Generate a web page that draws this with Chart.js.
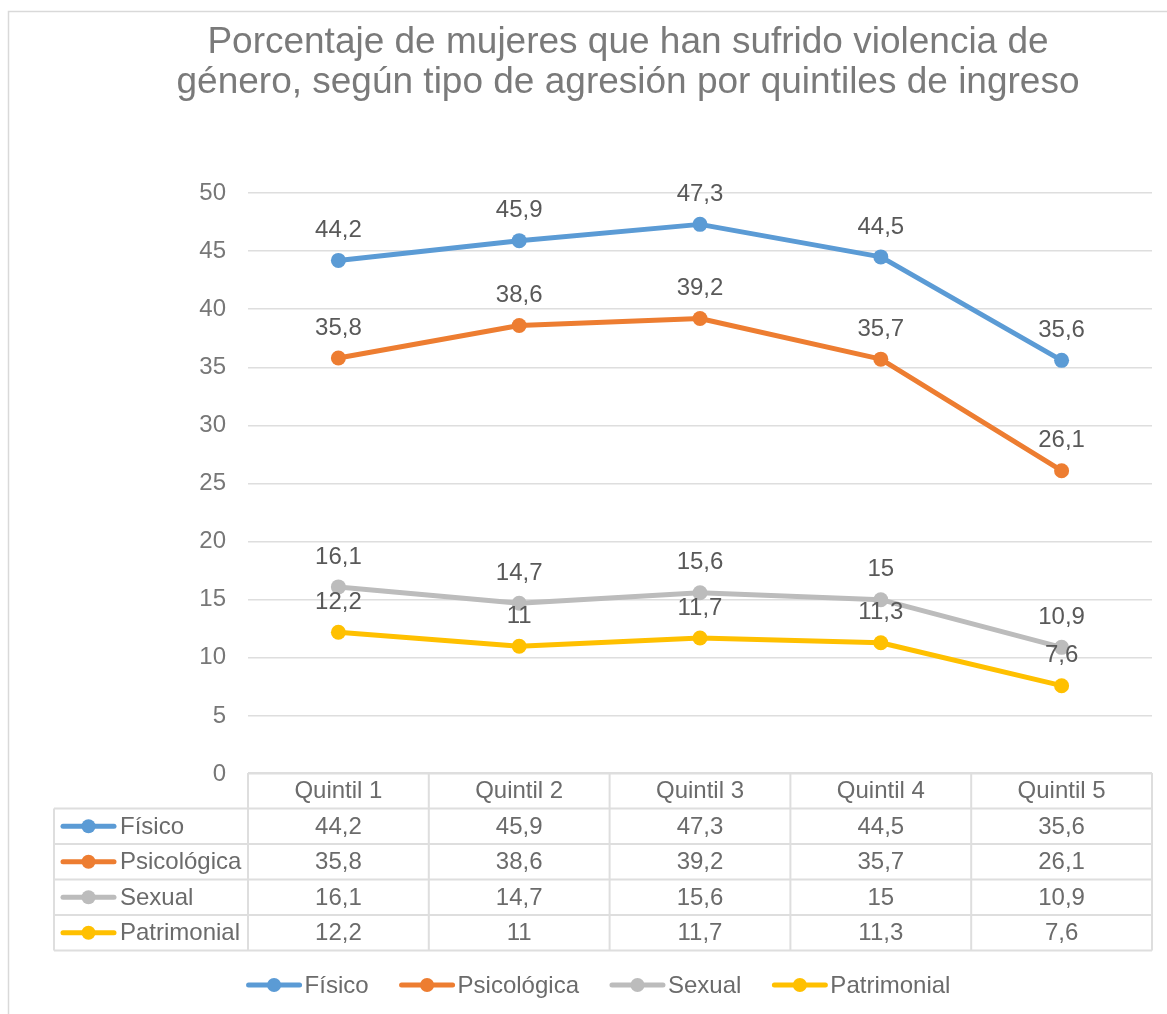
<!DOCTYPE html>
<html>
<head>
<meta charset="utf-8">
<script src="https://cdn.jsdelivr.net/npm/chart.js@4.4.1/dist/chart.umd.min.js"></script>
<style>
  html, body { margin: 0; padding: 0; background: #fff; }
  #wrap { width: 1167px; height: 1014px; }
</style>
</head>
<body>
<div id="wrap"><canvas id="chart" width="1167" height="1014"></canvas></div>
<script>
// Data
const titleLines = ['Porcentaje de mujeres que han sufrido violencia de', 'género, según tipo de agresión por quintiles de ingreso'];
const categories = ['Quintil 1', 'Quintil 2', 'Quintil 3', 'Quintil 4', 'Quintil 5'];
const seriesNames = ['Físico', 'Psicológica', 'Sexual', 'Patrimonial'];
const fisico = [44.2, 45.9, 47.3, 44.5, 35.6];
const psicologica = [35.8, 38.6, 39.2, 35.7, 26.1];
const sexual = [16.1, 14.7, 15.6, 15, 10.9];
const patrimonial = [12.2, 11, 11.7, 11.3, 7.6];
const yMin = 0;
const yMax = 50;
const yStep = 5;

const seriesColors = ['#5b9bd5', '#ed7d31', '#bcbcbc', '#ffc000'];
const FONT = "'Liberation Sans', Arial, sans-serif";
const GRID = '#dedede';

// numbers shown with decimal comma
function fmt(v) {
    return String(v).replace('.', ',');
}

// small line-with-dot key, like the Excel legend
function drawKey(ctx, x, y, w, color) {
    ctx.save();
    ctx.strokeStyle = color;
    ctx.fillStyle = color;
    ctx.lineWidth = 5;
    ctx.lineCap = 'round';
    ctx.beginPath();
    ctx.moveTo(x + 3, y);
    ctx.lineTo(x + w - 3, y);
    ctx.stroke();
    ctx.beginPath();
    ctx.arc(x + w / 2, y, 7, 0, Math.PI * 2);
    ctx.fill();
    ctx.restore();
}

// Outer frame + title
const framePlugin = {
    id: 'frame',
    beforeDraw(chart) {
        const ctx = chart.ctx;
        ctx.save();
        ctx.fillStyle = '#fff';
        ctx.fillRect(0, 0, chart.width, chart.height);
        ctx.strokeStyle = '#d9d9d9';
        ctx.lineWidth = 1.5;
        ctx.strokeRect(8.5, 11.5, chart.width + 20, chart.height + 20);
        ctx.fillStyle = '#7a7a7a';
        ctx.font = '37px ' + FONT;
        ctx.textAlign = 'center';
        ctx.textBaseline = 'alphabetic';
        titleLines.forEach((line, i) => {
            ctx.fillText(line, 628, 53 + i * 40);
        });
        ctx.restore();
    }
};

// Value labels above every point
const labelPlugin = {
    id: 'valueLabels',
    afterDatasetsDraw(chart) {
        const ctx = chart.ctx;
        ctx.save();
        ctx.font = '24px ' + FONT;
        ctx.fillStyle = '#595959';
        ctx.textAlign = 'center';
        ctx.textBaseline = 'middle';
        chart.data.datasets.forEach((ds, di) => {
            const meta = chart.getDatasetMeta(di);
            meta.data.forEach((pt, i) => {
                ctx.fillText(fmt(ds.data[i]), pt.x, pt.y - 30);
            });
        });
        ctx.restore();
    }
};

// Data table under the plot and legend at the bottom
const tablePlugin = {
    id: 'dataTable',
    afterDraw(chart) {
        const ctx = chart.ctx;
        const xs = chart.scales.x;
        const area = chart.chartArea;
        const colW = xs.getPixelForValue(1) - xs.getPixelForValue(0);
        const top = area.bottom - 1;
        const rowH = 35.5;
        const left = 54;
        const nRows = chart.data.datasets.length;
        const bottom = top + rowH * (nRows + 1);

        ctx.save();
        ctx.strokeStyle = GRID;
        ctx.lineWidth = 2;
        ctx.beginPath();
        // header row top
        ctx.moveTo(area.left, top);
        ctx.lineTo(area.right, top);
        for (let r = 1; r <= nRows + 1; r++) {
            ctx.moveTo(left, top + rowH * r);
            ctx.lineTo(area.right, top + rowH * r);
        }
        ctx.moveTo(left, top + rowH);
        ctx.lineTo(left, bottom);
        for (let c = 0; c <= categories.length; c++) {
            const x = area.left + c * colW;
            ctx.moveTo(x, top);
            ctx.lineTo(x, bottom);
        }
        ctx.stroke();

        ctx.font = '24px ' + FONT;
        ctx.fillStyle = '#6b6b6b';
        ctx.textBaseline = 'middle';
        ctx.textAlign = 'center';
        categories.forEach((cat, i) => {
            ctx.fillText(cat, xs.getPixelForValue(i), top + rowH / 2 + 1);
        });
        chart.data.datasets.forEach((ds, r) => {
            const cy = top + rowH * (r + 1.5) + 1;
            ds.data.forEach((v, i) => {
                ctx.textAlign = 'center';
                ctx.fillText(fmt(v), xs.getPixelForValue(i), cy);
            });
            drawKey(ctx, 60, cy - 1, 57, ds.borderColor);
            ctx.textAlign = 'left';
            ctx.fillText(ds.label, 120, cy);
        });

        // legend
        const keyW = 57, gapText = 2, gapItem = 30;
        const widths = chart.data.datasets.map(ds => keyW + gapText + ctx.measureText(ds.label).width);
        const total = widths.reduce((a, b) => a + b, 0) + gapItem * (widths.length - 1);
        let x = 598 - total / 2;
        const ly = 985;
        chart.data.datasets.forEach((ds, i) => {
            drawKey(ctx, x, ly, keyW, ds.borderColor);
            ctx.textAlign = 'left';
            ctx.fillText(ds.label, x + keyW + gapText, ly + 1);
            x += widths[i] + gapItem;
        });
        ctx.restore();
    }
};

const seriesValues = [fisico, psicologica, sexual, patrimonial];

const datasets = seriesNames.map((name, i) => ({
    label: name,
    data: seriesValues[i],
    borderColor: seriesColors[i],
    backgroundColor: seriesColors[i],
    pointBackgroundColor: seriesColors[i],
    pointBorderWidth: 0,
    pointRadius: 7.5,
    borderWidth: 5,
    borderCapStyle: 'round',
    borderJoinStyle: 'round',
    tension: 0,
    fill: false
}));

new Chart(document.getElementById('chart').getContext('2d'), {
    type: 'line',
    data: {
        labels: categories,
        datasets: datasets
    },
    options: {
        responsive: false,
        animation: false,
        devicePixelRatio: 1,
        layout: {
            padding: { top: 193, left: 0, right: 15, bottom: 240 }
        },
        plugins: {
            legend: { display: false },
            title: { display: false },
            tooltip: { enabled: false }
        },
        scales: {
            x: {
                type: 'category',
                offset: true,
                display: false
            },
            y: {
                min: yMin,
                max: yMax,
                ticks: {
                    stepSize: yStep,
                    color: '#777',
                    font: { family: FONT, size: 24 },
                    padding: 22
                },
                grid: { color: GRID, lineWidth: 1.5, drawTicks: false },
                border: { display: false },
                afterFit(scale) {
                    scale.width = 248;
                }
            }
        }
    },
    plugins: [framePlugin, labelPlugin, tablePlugin]
});
</script>
</body>
</html>
